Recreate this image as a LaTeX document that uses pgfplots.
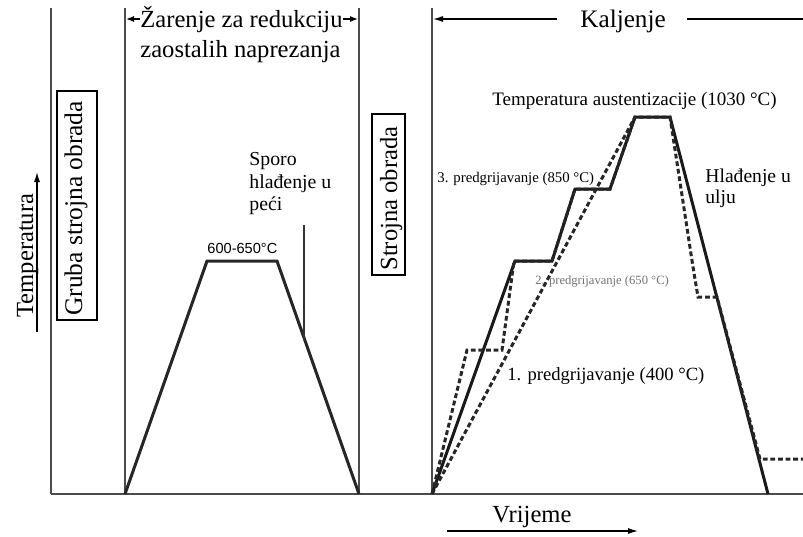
\documentclass[border=0pt]{standalone}
\usepackage{pgfplots}
\pgfplotsset{compat=1.18}
\usetikzlibrary{arrows.meta}
\usepackage{fontspec}
\setmainfont{Liberation Serif}
\newfontfamily\arialf{Liberation Sans}
\begin{document}
\begin{tikzpicture}
\begin{axis}[scale only axis, width=401.5pt, height=268pt,
  xmin=0, xmax=803, ymin=0, ymax=536, y dir=reverse, hide axis, clip=false]
% frame lines
\addplot[no marks, line width=0.75pt, color=black!70] coordinates {(51,8) (51,494)};
\addplot[no marks, line width=0.75pt, color=black!70] coordinates {(125,8) (125,494)};
\addplot[no marks, line width=0.75pt, color=black!70] coordinates {(359,8) (359,494)};
\addplot[no marks, line width=0.75pt, color=black!70] coordinates {(432,8) (432,494)};
\addplot[no marks, line width=0.75pt, color=black!70] coordinates {(51,494) (803,494)};
% annealing
\addplot[no marks, line width=1.5pt, color=black!85] coordinates {(125,494) (207,261) (277,261) (359,494)};
\addplot[no marks, line width=0.6pt, color=black!80] coordinates {(304,225) (304,340)};
% hardening
\addplot[no marks, line width=1.5pt, color=black!90] coordinates {(432,494) (515,261) (552,261) (575,189) (610,189) (635,117) (670,117) (768,494)};
\addplot[no marks, line width=1.5pt, color=black!85, dash pattern=on 2.4pt off 1.4pt] coordinates {(432,494) (635,117)};
\addplot[no marks, line width=1.5pt, color=black!85, dash pattern=on 2.4pt off 1.4pt] coordinates {(432,494) (467,350) (502,350) (514,261) (552,261) (575,189) (610,189) (635,117) (670,117) (693,267) (698,297) (717,297) (760,459) (803,459)};
% arrows
\draw[line width=0.6pt, -{Latex[length=4pt,width=3pt]}] (axis cs:140,19) -- (axis cs:126,19);
\draw[line width=0.6pt, -{Latex[length=4pt,width=3pt]}] (axis cs:343,19) -- (axis cs:358,19);
\draw[line width=0.6pt, -{Latex[length=5pt,width=3pt]}] (axis cs:557,19) -- (axis cs:433,19);
\draw[line width=0.6pt] (axis cs:687,19) -- (axis cs:803,19);
\draw[line width=0.6pt, -{Latex[length=5pt,width=3pt]}] (axis cs:37,332) -- (axis cs:37,172);
\draw[line width=0.6pt, -{Latex[length=5pt,width=3pt]}] (axis cs:447,531) -- (axis cs:638,531);
% boxes
\draw[line width=0.6pt] (axis cs:57,91) rectangle (axis cs:97,320);
\draw[line width=0.6pt] (axis cs:372,114) rectangle (axis cs:405,275);
% texts
\node[anchor=base west, inner sep=0, font=\fontsize{12.3}{15}\selectfont] at (axis cs:140,27.5) {Žarenje za redukciju};
\node[anchor=base west, inner sep=0, font=\fontsize{12.3}{15}\selectfont] at (axis cs:140,57) {zaostalih naprezanja};
\node[anchor=base west, inner sep=0, font=\fontsize{12.6}{15}\selectfont] at (axis cs:580,27) {Kaljenje};
\node[anchor=base west, inner sep=0, rotate=90, font=\fontsize{12.3}{15}\selectfont] at (axis cs:33,318) {Temperatura};
\node[anchor=base west, inner sep=0, rotate=90, font=\fontsize{12.7}{15}\selectfont] at (axis cs:82,316) {Gruba strojna obrada};
\node[anchor=base west, inner sep=0, rotate=90, font=\fontsize{12.3}{15}\selectfont] at (axis cs:397,271) {Strojna obrada};
\node[anchor=base west, inner sep=0, font=\fontsize{7.3}{9}\arialf] at (axis cs:207,253) {600-650°C};
\node[anchor=base west, inner sep=0, font=\fontsize{9.9}{12}\selectfont] at (axis cs:249,165) {Sporo};
\node[anchor=base west, inner sep=0, font=\fontsize{9.9}{12}\selectfont] at (axis cs:249,188) {hlađenje u};
\node[anchor=base west, inner sep=0, font=\fontsize{9.9}{12}\selectfont] at (axis cs:249,210) {peći};
\node[anchor=base west, inner sep=0, font=\fontsize{9.5}{12}\selectfont] at (axis cs:492,105) {Temperatura austentizacije (1030 °C)};
\node[anchor=base west, inner sep=0, font=\fontsize{7.4}{9}\selectfont] at (axis cs:437,182) {3. predgrijavanje (850 °C)};
\node[anchor=base west, inner sep=0, font=\fontsize{9.8}{12}\selectfont] at (axis cs:705,182) {Hlađenje u};
\node[anchor=base west, inner sep=0, font=\fontsize{9.8}{12}\selectfont] at (axis cs:705,203) {ulju};
\node[anchor=base west, inner sep=0, text=black!55, font=\fontsize{6.3}{8}\selectfont] at (axis cs:535,284) {2. predgrijavanje (650 °C)};
\node[anchor=base west, inner sep=0, font=\fontsize{9.3}{12}\selectfont] at (axis cs:507,380) {1. predgrijavanje (400 °C)};
\node[anchor=base west, inner sep=0, font=\fontsize{12.3}{15}\selectfont] at (axis cs:492,522) {Vrijeme};
\end{axis}
\pgfresetboundingbox
\path (current axis.south west) rectangle (current axis.north east);
\end{tikzpicture}
\end{document}
